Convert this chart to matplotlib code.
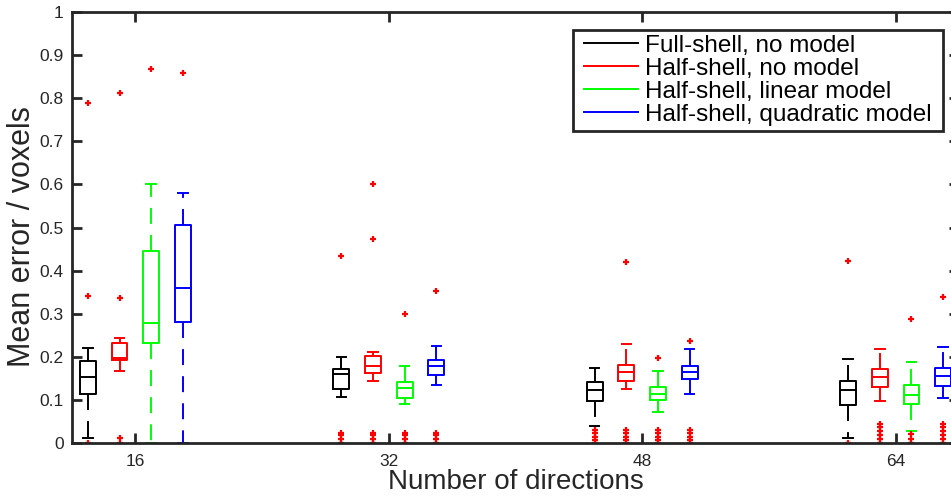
import matplotlib
matplotlib.use('Agg')
import matplotlib.pyplot as plt
from matplotlib.lines import Line2D
from matplotlib.path import Path

plt.rcParams.update({'font.family': ['Liberation Sans', 'DejaVu Sans'],
                     'axes.linewidth': 2.0, 'axes.edgecolor': '#262626',
                     'xtick.color': '#262626', 'ytick.color': '#262626',
                     'xtick.direction': 'in', 'ytick.direction': 'in',
                     'xtick.major.size': 7, 'ytick.major.size': 7,
                     'xtick.major.width': 2.0, 'ytick.major.width': 2.0})

directions = [16, 32, 48, 64]
labels = ['Full-shell, no model', 'Half-shell, no model',
          'Half-shell, linear model', 'Half-shell, quadratic model']
colors = ['black', 'red', '#00ff00', 'blue']

# per method: one value per number of directions
med = [[0.154, 0.160, 0.122, 0.122],
       [0.197, 0.179, 0.165, 0.152],
       [0.279, 0.127, 0.114, 0.112],
       [0.360, 0.179, 0.164, 0.156]]
q1 = [[0.114, 0.126, 0.097, 0.089],
      [0.193, 0.162, 0.145, 0.131],
      [0.231, 0.104, 0.099, 0.091],
      [0.281, 0.158, 0.148, 0.132]]
q3 = [[0.191, 0.172, 0.142, 0.145],
      [0.233, 0.203, 0.182, 0.171],
      [0.446, 0.142, 0.129, 0.135],
      [0.506, 0.192, 0.178, 0.175]]
whislo = [[0.011, 0.107, 0.040, 0.011],
          [0.166, 0.145, 0.126, 0.097],
          [0.000, 0.090, 0.073, 0.029],
          [0.000, 0.135, 0.113, 0.105]]
whishi = [[0.220, 0.200, 0.175, 0.194],
          [0.244, 0.212, 0.229, 0.218],
          [0.602, 0.179, 0.167, 0.187],
          [0.581, 0.226, 0.217, 0.223]]
fliers = [[[0.0, 0.342, 0.790], [0.0, 0.009, 0.018, 0.024, 0.435],
           [0.0, 0.008, 0.015, 0.023, 0.030], [0.0, 0.423]],
          [[0.0, 0.012, 0.337, 0.811], [0.0, 0.009, 0.018, 0.024, 0.473, 0.600],
           [0.0, 0.008, 0.015, 0.023, 0.030, 0.421],
           [0.0, 0.009, 0.018, 0.027, 0.036, 0.045]],
          [[0.868], [0.0, 0.009, 0.018, 0.024, 0.299],
           [0.0, 0.008, 0.015, 0.023, 0.030, 0.197],
           [0.0, 0.010, 0.020, 0.288]],
          [[0.858], [0.0, 0.009, 0.018, 0.024, 0.353],
           [0.0, 0.008, 0.015, 0.023, 0.030, 0.237],
           [0.0, 0.009, 0.018, 0.027, 0.036, 0.045, 0.339]]]
offsets = [-3, -1, 1, 3]

fig = plt.figure(figsize=(9.51, 4.99), dpi=100)
ax = fig.add_axes([72/951, 56/499, 887/951, 431/499])

lw = 1.4
for m in range(4):
    stats = []
    for j in range(4):
        stats.append({'med': med[m][j], 'q1': q1[m][j], 'q3': q3[m][j],
                      'whislo': whislo[m][j], 'whishi': whishi[m][j],
                      'fliers': fliers[m][j]})
    pos = [d + offsets[m] for d in directions]
    c = colors[m]
    ax.bxp(stats, positions=pos, widths=1.0, capwidths=0.6, manage_ticks=False,
           boxprops=dict(color=c, lw=lw),
           medianprops=dict(color=c, lw=lw),
           whiskerprops=dict(color=c, lw=lw, linestyle=(0, (11.5/lw, 8/lw))),
           capprops=dict(color=c, lw=lw),
           flierprops=dict(marker='+', markeredgecolor='red', markersize=5,
                           markeredgewidth=1.6, linestyle='none'))

ax.set_xlim(12, 68)
ax.set_ylim(0, 1)
ax.set_xticks(directions)
ax.set_yticks([i/10 for i in range(11)],
              ['0'] + ['%.1f' % (i/10) for i in range(1, 10)] + ['1'])
ax.tick_params(top=True, right=True, labelsize=12.5)
ax.tick_params(axis='x', pad=8)
ax.tick_params(axis='y', pad=6)
ax.set_xlabel('Number of directions', fontsize=20, color='#262626', labelpad=0)
ax.set_ylabel('Mean error / voxels', fontsize=22, color='#262626')
ax.yaxis.set_label_coords(-0.039, 0.478)


# legend frame is wider than its vertical padding suggests
def wide_box(x0, y0, width, height, mutation_size):
    dx = 6
    return Path([(x0 - dx, y0), (x0 + width + dx, y0), (x0 + width + dx, y0 + height),
                 (x0 - dx, y0 + height), (x0 - dx, y0)], closed=True)


handles = [Line2D([], [], color=c, lw=1.4) for c in colors]
leg = ax.legend(handles, labels, loc='upper left', fontsize=17.5,
                bbox_to_anchor=(579/951, 1 - 30/499), bbox_transform=fig.transFigure,
                borderaxespad=0, fancybox=False, framealpha=1, edgecolor='#262626',
                handlelength=2.23, handletextpad=0.29, labelspacing=0.04, borderpad=0.2)
leg.get_frame().set_boxstyle(wide_box)
leg.get_frame().set_linewidth(2.0)

fig.savefig('out.png', dpi=100)
